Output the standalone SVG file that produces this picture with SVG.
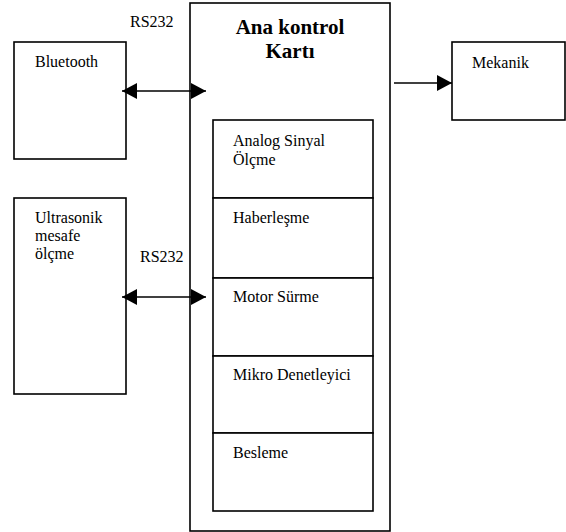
<svg xmlns="http://www.w3.org/2000/svg" width="566" height="532" viewBox="0 0 566 532">
<style>
.box{fill:#fff;stroke:#000;stroke-width:1.6}
.t{font-size:16px;fill:#000}
.b{font-size:21px;font-weight:bold;fill:#000}
.c{stroke:#000;stroke-width:1.6;fill:none}
</style>
<defs>
<marker id="ah" viewBox="0 0 15 16" refX="15" refY="8" markerWidth="15" markerHeight="16" markerUnits="userSpaceOnUse" orient="auto-start-reverse">
<path d="M0,0 L15,8 L0,16 z" fill="#000"/>
</marker>
</defs>
<rect width="566" height="532" fill="#fff"/>
<g font-family="'Liberation Serif', 'DejaVu Serif', serif">
<g id="bluetooth">
<rect class="box" x="14" y="42" width="112" height="117"/>
<text class="t" x="35" y="67">Bluetooth</text>
</g>
<g id="ultrasonik">
<rect class="box" x="14" y="198" width="112" height="196"/>
<text class="t" x="35" y="223">Ultrasonik</text>
<text class="t" x="35" y="241">mesafe</text>
<text class="t" x="35" y="259">ölçme</text>
</g>
<g id="ana-kontrol">
<rect class="box" x="190" y="3" width="200" height="528"/>
<text class="b" x="290" y="34" text-anchor="middle">Ana kontrol</text>
<text class="b" x="290" y="58" text-anchor="middle">Kartı</text>
</g>
<g id="analog">
<rect class="box" x="213" y="120" width="160" height="78"/>
<text class="t" x="233" y="146">Analog Sinyal</text>
<text class="t" x="233" y="165">Ölçme</text>
</g>
<g id="haberlesme">
<rect class="box" x="213" y="198" width="160" height="80"/>
<text class="t" x="233" y="223">Haberleşme</text>
</g>
<g id="motor">
<rect class="box" x="213" y="278" width="160" height="78"/>
<text class="t" x="233" y="302">Motor Sürme</text>
</g>
<g id="mikro">
<rect class="box" x="213" y="356" width="160" height="77"/>
<text class="t" x="233" y="380">Mikro Denetleyici</text>
</g>
<g id="besleme">
<rect class="box" x="213" y="433" width="160" height="78"/>
<text class="t" x="233" y="458">Besleme</text>
</g>
<g id="mekanik">
<rect class="box" x="452" y="42" width="113" height="78"/>
<text class="t" x="472" y="68">Mekanik</text>
</g>
<g id="connectors">
<line class="c" x1="122" y1="91" x2="206" y2="91" marker-start="url(#ah)" marker-end="url(#ah)"/>
<line class="c" x1="122" y1="297" x2="206" y2="297" marker-start="url(#ah)" marker-end="url(#ah)"/>
<line class="c" x1="394" y1="83" x2="452" y2="83" marker-end="url(#ah)"/>
<text class="t" x="130" y="27">RS232</text>
<text class="t" x="140" y="262">RS232</text>
</g>
</g>
</svg>
